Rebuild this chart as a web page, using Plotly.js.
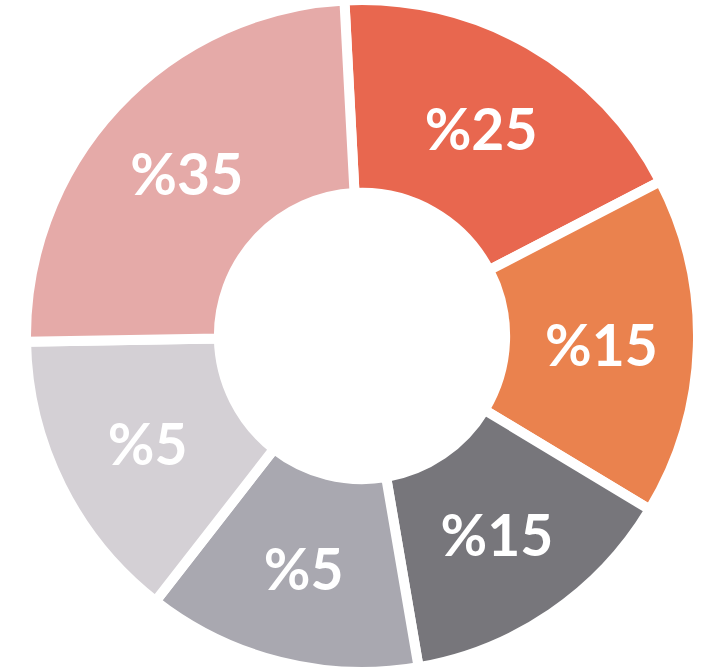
<!DOCTYPE html>
<html>
<head>
<meta charset="utf-8">
<script src="https://cdn.plot.ly/plotly-3.0.1.min.js"></script>
<style>html,body{margin:0;padding:0;background:#fff;}#chart{width:707px;height:672px;}</style>
</head>
<body>
<div id="chart"></div>
<script>
// Slice sizes as drawn (degrees of arc)
const sliceNames = ["A", "B", "C", "D", "E", "F"];
const sliceValues = [65.6, 58.5, 49.2, 47.6, 51.1, 88.0];
const sliceLabels = ["%25", "%15", "%15", "%5", "%5", "%35"];
const sliceColors = ["#E8674F", "#EA824E", "#77767B", "#A9A8B0", "#D4D0D5", "#E5AAA8"];

const trace = {
  type: "pie",
  labels: sliceNames,
  values: sliceValues,
  text: sliceLabels,
  textinfo: "text",
  textposition: "inside",
  insidetextorientation: "horizontal",
  sort: false,
  direction: "clockwise",
  rotation: -3,
  hole: 0.426,
  marker: { colors: sliceColors, line: { color: "#ffffff", width: 10 } },
  textfont: { family: "Lato, sans-serif", size: 57, color: "#ffffff", weight: 700 },
  hoverinfo: "none",
  domain: { x: [26 / 707, 698 / 707], y: [0, 1] }
};

const layout = {
  width: 707,
  height: 672,
  margin: { l: 0, r: 0, t: 0, b: 0 },
  paper_bgcolor: "#ffffff",
  showlegend: false
};

Plotly.newPlot("chart", [trace], layout, { displayModeBar: false, staticPlot: true });
</script>
</body>
</html>
